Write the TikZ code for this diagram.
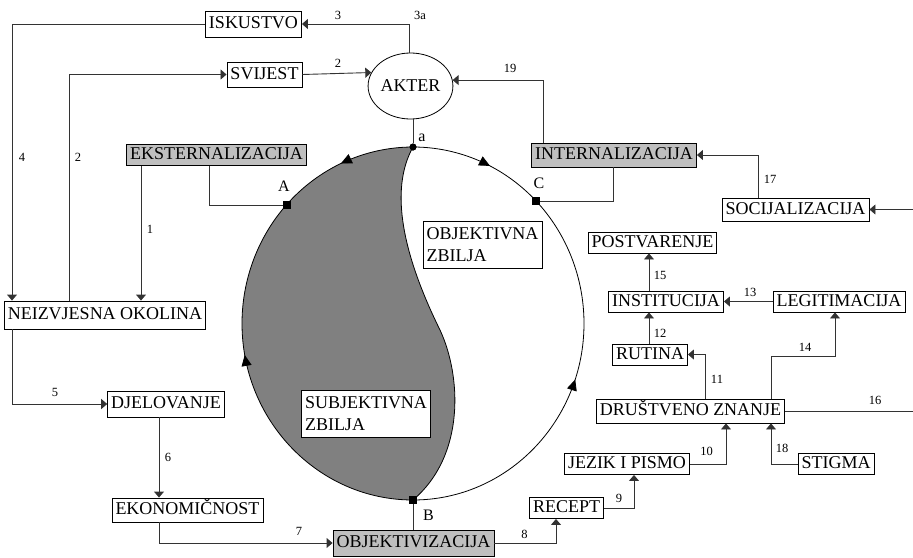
\documentclass[tikz,border=0pt]{standalone}
\usepackage{fontspec}
\setmainfont{Liberation Serif}
\usetikzlibrary{arrows.meta, shapes.geometric, decorations.markings}

\begin{document}
\begin{tikzpicture}[
    x=1pt, y=-1pt,
    box/.style={rectangle, draw=black, line width=0.9pt, fill=#1, font=\fontsize{18}{21.5}\selectfont, inner xsep=3.5pt, inner ysep=3pt, text height=12pt, text depth=3pt},
    box/.default=white,
    zone/.style={rectangle, draw=black, line width=0.9pt, fill=white, font=\fontsize{18}{21.5}\selectfont, align=left, inner xsep=3.5pt, minimum height=47pt},
    arrow/.style={-{Triangle[length=6pt, width=10pt]}, line width=0.9pt, draw=black!80},
    line/.style={line width=0.9pt, draw=black!80},
    num/.style={font=\fontsize{12.5}{14}\selectfont, inner sep=0pt},
    letter/.style={font=\fontsize{16}{18}\selectfont, inner sep=0pt},
    dot/.style={rectangle, fill=black, inner sep=0pt, minimum size=8pt},
    flow/.style={line width=0.8pt, postaction={decorate}, decoration={markings, mark=at position #1 with {\arrow{Triangle[length=11pt, width=10pt]}}}},
    flow/.default=0.5
]
\useasboundingbox (0,0) rectangle (913,557);

% Reality circle
\node[dot, circle, minimum size=7pt] (a) at (413,147) {};
\node[dot] (B) at (413,500) {};
\fill[black!50] (a.center) arc[start angle=-90, end angle=-270, x radius=171, y radius=176.5]
    .. controls (466,455) and (461,375) .. (440,330) .. controls (403,255) and (389,190) .. (a.center);
\draw[line width=0.8pt] (a.center) .. controls (389,190) and (403,255) .. (440,330) .. controls (461,375) and (466,455) .. (B.center);
\draw[flow=0.52] (a.center) arc[start angle=-90, end angle=-137.8, x radius=171, y radius=176.5];
\draw[flow=0.58] (a.center) arc[start angle=-90, end angle=-44, x radius=171, y radius=176.5];
\draw[flow=0.6] (B.center) arc[start angle=90, end angle=222.2, x radius=171, y radius=176.5];
\draw[flow=0.53] (B.center) arc[start angle=90, end angle=-44, x radius=171, y radius=176.5];
\node[dot, circle, minimum size=7pt] at (a) {};
\node[dot] at (B) {};
\node[dot] (A) at (287,205) {};
\node[dot] (C) at (536,201) {};
\node[zone] (objzb) at (482.5,244.5) {OBJEKTIVNA\\ZBILJA};
\node[zone] (subzb) at (366,413.5) {SUBJEKTIVNA\\ZBILJA};

% Main components
\node[ellipse, draw=black, line width=0.8pt, minimum width=75pt, minimum height=66pt, inner sep=0pt, font=\fontsize{18}{21.5}\selectfont] (akter) at (410.5,86) {AKTER};
\node[box, minimum height=26pt] (iskustvo) at (253.5,24) {ISKUSTVO};
\node[box, minimum height=25pt] (svijest) at (264.5,74.5) {SVIJEST};
\node[box=black!25] (ekst) at (216.5,155) {EKSTERNALIZACIJA};
\node[box, minimum height=28pt] (okolina) at (105,315) {NEIZVJESNA OKOLINA};
\node[box, minimum height=26pt] (djelovanje) at (166,404) {DJELOVANJE};
\node[box, minimum height=24pt] (ekonom) at (187.5,510) {EKONOMIČNOST};
\node[box=black!25, minimum height=26pt] (objektiv) at (413.5,543) {OBJEKTIVIZACIJA};
\node[box] (recept) at (566.5,508) {RECEPT};
\node[box] (jezik) at (627,464) {JEZIK I PISMO};
\node[box, minimum height=24pt] (znanje) at (690.5,411) {DRUŠTVENO ZNANJE};
\node[box] (stigma) at (836,464) {STIGMA};
\node[box] (rutina) at (650,354.5) {RUTINA};
\node[box] (institucija) at (666,301.5) {INSTITUCIJA};
\node[box] (legitim) at (839,301.5) {LEGITIMACIJA};
\node[box] (postvar) at (652.5,242.5) {POSTVARENJE};
\node[box=black!25, minimum height=24pt] (intern) at (614,155) {INTERNALIZACIJA};
\node[box, minimum height=23pt] (socij) at (795.5,209.5) {SOCIJALIZACIJA};
\coordinate (out16) at (913,411);
\coordinate (in17) at (913,209.5);

% Arrows
\draw[arrow] ([xshift=-75.5pt]ekst.south) -- ([xshift=36pt]okolina.north);
\draw[line] ([xshift=-7.5pt]ekst.south) |- (A);
\draw[arrow] ([xshift=-36pt]okolina.north) |- (svijest.west);
\draw[arrow] (svijest.east) -- (akter.161);
\draw[arrow] ([xshift=-1.5pt]akter.north) |- (iskustvo.east);
\draw[arrow] (iskustvo.west) -| ([xshift=-93pt]okolina.north);
\draw[arrow] ([xshift=-93pt]okolina.south) |- (djelovanje.west);
\draw[arrow] ([xshift=-7pt]djelovanje.south) -- ([xshift=-28.5pt]ekonom.north);
\draw[arrow] ([xshift=-28.5pt]ekonom.south) |- (objektiv.west);
\draw[line] (B) -- (B |- objektiv.north);
\draw[arrow] (objektiv.east) -| ([xshift=-10.5pt]recept.south);
\draw[arrow] (recept.east) -| ([xshift=7pt]jezik.south);
\draw[arrow] (jezik.east) -| ([xshift=35.5pt]znanje.south);
\draw[arrow] (stigma.west) -| ([xshift=80.5pt]znanje.south);
\draw[arrow] ([xshift=14.5pt]znanje.north) |- (rutina.east);
\draw[arrow] ([xshift=80.5pt]znanje.north) -- ++(0,-42) -| ([xshift=-4pt]legitim.south);
\draw[arrow] ([xshift=-1pt]rutina.north) -- ([xshift=-17pt]institucija.south);
\draw[arrow] (legitim.west) -- (institucija.east);
\draw[arrow] ([xshift=-17pt]institucija.north) -- ([xshift=-3.5pt]postvar.south);
\draw[line] (znanje.east) -- (out16);
\draw[arrow] (in17) -- (socij.east);
\draw[arrow] ([xshift=-37.5pt]socij.north) |- (intern.east);
\draw[line] ([xshift=-1pt]intern.south) |- (C);
\draw[arrow] ([xshift=-71pt]intern.north) |- (akter.8);
\draw[line] (a |- akter.south) -- (a);

% Numbers
\node[num] (n1) at (150,229) {1};
\node[num] (n2a) at (78,157) {2};
\node[num] (n2b) at (338,63) {2};
\node[num] (n3) at (338,15) {3};
\node[num] (n3a) at (420,15) {3a};
\node[num] (n4) at (22,157) {4};
\node[num] (n5) at (55,392) {5};
\node[num] (n6) at (168,457) {6};
\node[num] (n7) at (299,531) {7};
\node[num] (n8) at (524.5,534) {8};
\node[num] (n9) at (619,498.5) {9};
\node[num] (n10) at (706.5,451.5) {10};
\node[num] (n11) at (717,379) {11};
\node[num] (n12) at (660,333) {12};
\node[num] (n13) at (750,292) {13};
\node[num] (n14) at (805,347) {14};
\node[num] (n15) at (660,275) {15};
\node[num] (n16) at (875,400) {16};
\node[num] (n17) at (770,179) {17};
\node[num] (n18) at (782,448.5) {18};
\node[num] (n19) at (510,68) {19};
\node[letter] (la) at (422,138) {a};
\node[letter] (lA) at (284,186) {A};
\node[letter] (lB) at (428.5,515.5) {B};
\node[letter] (lC) at (539,183) {C};
\end{tikzpicture}
\end{document}
